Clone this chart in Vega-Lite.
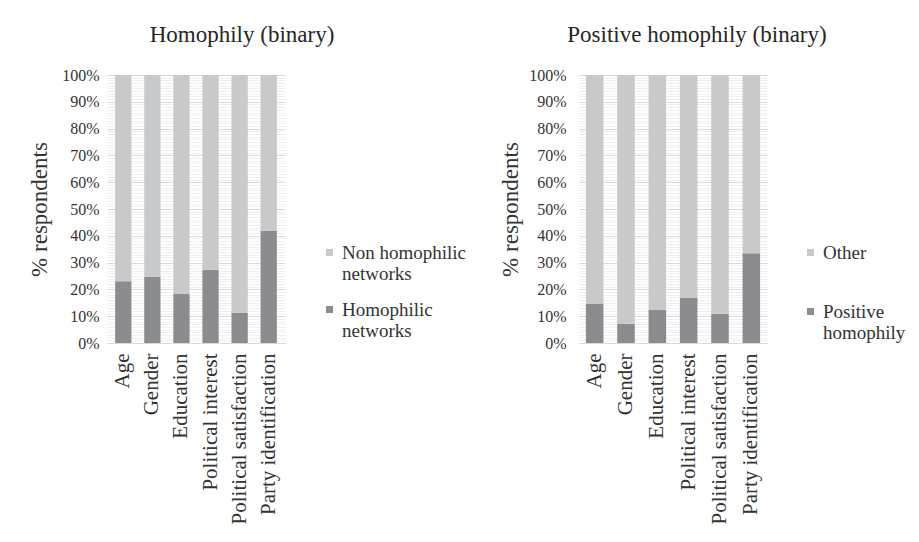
{
  "$schema": "https://vega.github.io/schema/vega-lite/v6.json",
  "padding": {"left": 28, "top": 24, "right": 5, "bottom": 5},
  "background": "white",
  "datasets": {
    "homophily": [
      {"factor": "Age", "group": "Homophilic networks", "pct": 23.0},
      {"factor": "Age", "group": "Non homophilic networks", "pct": 77.0},
      {"factor": "Gender", "group": "Homophilic networks", "pct": 24.7},
      {"factor": "Gender", "group": "Non homophilic networks", "pct": 75.3},
      {"factor": "Education", "group": "Homophilic networks", "pct": 18.3},
      {"factor": "Education", "group": "Non homophilic networks", "pct": 81.7},
      {"factor": "Political interest", "group": "Homophilic networks", "pct": 27.3},
      {"factor": "Political interest", "group": "Non homophilic networks", "pct": 72.7},
      {"factor": "Political satisfaction", "group": "Homophilic networks", "pct": 11.3},
      {"factor": "Political satisfaction", "group": "Non homophilic networks", "pct": 88.7},
      {"factor": "Party identification", "group": "Homophilic networks", "pct": 41.9},
      {"factor": "Party identification", "group": "Non homophilic networks", "pct": 58.1}
    ],
    "positive": [
      {"factor": "Age", "group": "Positive homophily", "pct": 14.7},
      {"factor": "Age", "group": "Other", "pct": 85.3},
      {"factor": "Gender", "group": "Positive homophily", "pct": 7.2},
      {"factor": "Gender", "group": "Other", "pct": 92.8},
      {"factor": "Education", "group": "Positive homophily", "pct": 12.3},
      {"factor": "Education", "group": "Other", "pct": 87.7},
      {"factor": "Political interest", "group": "Positive homophily", "pct": 16.9},
      {"factor": "Political interest", "group": "Other", "pct": 83.1},
      {"factor": "Political satisfaction", "group": "Positive homophily", "pct": 10.9},
      {"factor": "Political satisfaction", "group": "Other", "pct": 89.1},
      {"factor": "Party identification", "group": "Positive homophily", "pct": 33.5},
      {"factor": "Party identification", "group": "Other", "pct": 66.5}
    ]
  },
  "config": {
    "font": "Liberation Serif",
    "view": {"stroke": null},
    "style": {
      "guide-label": {"font": "Liberation Serif"},
      "guide-title": {"font": "Liberation Serif"},
      "group-title": {"font": "Liberation Serif"}
    },
    "title": {"font": "Liberation Serif", "fontSize": 23, "fontWeight": "normal", "color": "#262626", "anchor": "middle"},
    "axis": {"labelFont": "Liberation Serif", "titleFont": "Liberation Serif"},
    "legend": {
      "labelFont": "Liberation Serif",
      "labelFontSize": 19,
      "labelColor": "#333333",
      "symbolType": "square",
      "symbolSize": 49,
      "symbolStrokeWidth": 0,
      "labelOffset": 3,
      "labelLimit": 200,
      "padding": 0
    }
  },
  "spacing": 32,
  "resolve": {"scale": {"color": "independent", "x": "independent", "y": "independent"}, "legend": {"color": "independent"}},
  "hconcat": [
    {
      "title": {"text": "Homophily (binary)", "dx": 46, "offset": 20},
      "width": 178,
      "height": 268,
      "data": {"name": "homophily"},
      "mark": {"type": "bar"},
      "encoding": {
        "x": {
          "field": "factor", "type": "nominal", "sort": null,
          "scale": {"paddingInner": 0.44, "paddingOuter": 0.28},
          "axis": {"title": null, "labelAngle": -90, "labelFont": "Liberation Serif", "labelColor": "#333333", "labelFontSize": 21, "labelPadding": 10, "labelLimit": 260, "ticks": false, "domainColor": "#d9d9d9", "domainWidth": 1}
        },
        "y": {
          "field": "pct", "type": "quantitative", "stack": "zero",
          "scale": {"domain": [0, 100], "nice": false},
          "axis": {
            "title": "% respondents", "titleFont": "Liberation Serif", "titleFontWeight": "normal", "titleColor": "#333333", "titleFontSize": 23, "titlePadding": 10,
            "tickCount": 100, "ticks": false, "labelOverlap": false, "labelFont": "Liberation Serif", "labelColor": "#333333", "labelFontSize": 16, "labelPadding": 8,
            "labelExpr": "round(datum.value) % 10 == 0 ? datum.value + '%' : ''",
            "domain": false,
            "gridColor": {"condition": {"test": "round(datum.value) % 10 == 0", "value": "#d9d9d9"}, "value": "#efefef"},
            "gridWidth": 1
          }
        },
        "color": {
          "field": "group", "type": "nominal",
          "scale": {"domain": ["Non homophilic networks", "Homophilic networks"], "range": ["#c8c9cb", "#8b8c8f"]},
          "legend": {
            "title": null, "orient": "none", "legendX": 213, "legendY": 168, "rowPadding": 16,
            "labelFont": "Liberation Serif",
            "labelExpr": "datum.label == 'Non homophilic networks' ? ['Non homophilic', 'networks'] : ['Homophilic', 'networks']"
          }
        },
        "order": {"field": "group", "sort": "ascending"}
      }
    },
    {
      "title": {"text": "Positive homophily (binary)", "dx": 24, "offset": 20},
      "width": 188,
      "height": 268,
      "data": {"name": "positive"},
      "mark": {"type": "bar"},
      "encoding": {
        "x": {
          "field": "factor", "type": "nominal", "sort": null,
          "scale": {"paddingInner": 0.44, "paddingOuter": 0.22},
          "axis": {"title": null, "labelAngle": -90, "labelFont": "Liberation Serif", "labelColor": "#333333", "labelFontSize": 21, "labelPadding": 10, "labelLimit": 260, "ticks": false, "domainColor": "#d9d9d9", "domainWidth": 1}
        },
        "y": {
          "field": "pct", "type": "quantitative", "stack": "zero",
          "scale": {"domain": [0, 100], "nice": false},
          "axis": {
            "title": "% respondents", "titleFont": "Liberation Serif", "titleFontWeight": "normal", "titleColor": "#333333", "titleFontSize": 23, "titlePadding": 6,
            "tickCount": 100, "ticks": false, "labelOverlap": false, "labelFont": "Liberation Serif", "labelColor": "#333333", "labelFontSize": 16, "labelPadding": 13,
            "labelExpr": "round(datum.value) % 10 == 0 ? datum.value + '%' : ''",
            "domain": false,
            "gridColor": {"condition": {"test": "round(datum.value) % 10 == 0", "value": "#d9d9d9"}, "value": "#efefef"},
            "gridWidth": 1
          }
        },
        "color": {
          "field": "group", "type": "nominal",
          "scale": {"domain": ["Other", "Positive homophily"], "range": ["#c8c9cb", "#8b8c8f"]},
          "legend": {
            "title": null, "orient": "none", "legendX": 222, "legendY": 168, "rowPadding": 39,
            "labelFont": "Liberation Serif",
            "labelExpr": "datum.label == 'Positive homophily' ? ['Positive', 'homophily'] : datum.label"
          }
        },
        "order": {"field": "group", "sort": "descending"}
      }
    }
  ]
}
